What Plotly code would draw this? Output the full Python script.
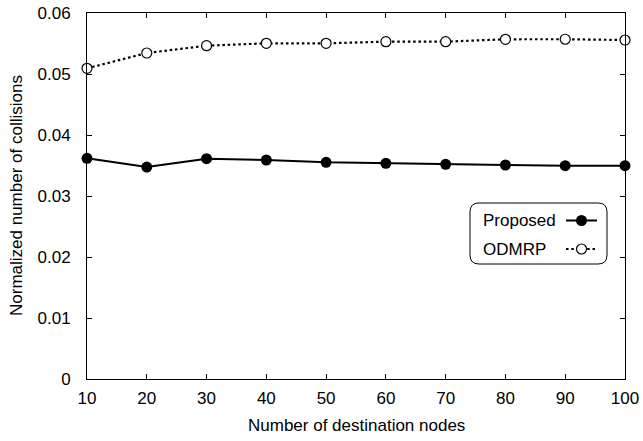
import plotly.graph_objects as go

nodes = [10, 20, 30, 40, 50, 60, 70, 80, 90, 100]
proposed = [0.03617, 0.03475, 0.03612, 0.0359, 0.03552, 0.03535, 0.03519, 0.03508, 0.03497, 0.03497]
odmrp = [0.05093, 0.05344, 0.05464, 0.05503, 0.05503, 0.0553, 0.0553, 0.05569, 0.0557, 0.05557]
series_names = ["Proposed", "ODMRP"]
x_ticks = [10, 20, 30, 40, 50, 60, 70, 80, 90, 100]
y_ticks = [0, 0.01, 0.02, 0.03, 0.04, 0.05, 0.06]
y_tick_text = ["0", "0.01", "0.02", "0.03", "0.04", "0.05", "0.06"]

W, H = 643, 441
PL, PR, PT, PB = 87, 625, 13, 379  # plot area in the reference, pixels
ml, mt = PL, PT
mr, mb = W - PR, H - PB
XMIN, XMAX, YMIN, YMAX = 10, 100, 0, 0.06
font = "Liberation Sans, Arial, sans-serif"
FS = 17


def px_x(px):
    return XMIN + (px - PL) / (PR - PL) * (XMAX - XMIN)


def px_y(py):
    return YMIN + (PB - py) / (PB - PT) * (YMAX - YMIN)


solid = dict(color="black", width=2)
dotted = dict(color="black", width=2.2, dash="2.5px,2.8px")
filled = dict(symbol="circle", size=11, color="black")
hollow = dict(symbol="circle", size=10, color="white", line=dict(color="black", width=1.2))

fig = go.Figure()

# legend box (rounded)
x0, x1, y0, y1, r = 470, 607, 203, 264, 9
pts = lambda a, b: f"{px_x(a)},{px_y(b)}"
path = (f"M {pts(x0+r, y0)} L {pts(x1-r, y0)} Q {pts(x1, y0)} {pts(x1, y0+r)} L {pts(x1, y1-r)} "
        f"Q {pts(x1, y1)} {pts(x1-r, y1)} L {pts(x0+r, y1)} Q {pts(x0, y1)} {pts(x0, y1-r)} "
        f"L {pts(x0, y0+r)} Q {pts(x0, y0)} {pts(x0+r, y0)} Z")
fig.add_shape(type="path", path=path, xref="x", yref="y",
              line=dict(color="black", width=1), fillcolor="white", layer="below")

fig.add_trace(go.Scatter(x=nodes, y=proposed, mode="lines+markers", name=series_names[0],
                         line=solid, marker=filled, cliponaxis=False, showlegend=False))
fig.add_trace(go.Scatter(x=nodes, y=odmrp, mode="lines+markers", name=series_names[1],
                         line=dotted, marker=hollow, cliponaxis=False, showlegend=False))

# legend samples (text left, sample right, as in the reference)
leg_y = [220.5, 249]
for name, yy, ln, mk in zip(series_names, leg_y, [solid, dotted], [filled, hollow]):
    fig.add_trace(go.Scatter(x=[px_x(566), px_x(597)], y=[px_y(yy)] * 2, mode="lines",
                             line=ln, showlegend=False, hoverinfo="skip", cliponaxis=False))
    fig.add_trace(go.Scatter(x=[px_x(581.5)], y=[px_y(yy)], mode="markers",
                             marker=mk, showlegend=False, hoverinfo="skip", cliponaxis=False))
    fig.add_annotation(x=px_x(481), y=px_y(yy), xref="x", yref="y", text=name, showarrow=False,
                       xanchor="left", yanchor="middle", font=dict(family=font, size=FS, color="black"))

# axis titles
fig.add_annotation(x=0.5, y=0, xref="paper", yref="paper", yshift=-(425 - PB), text="Number of destination nodes",
                   showarrow=False, xanchor="center", yanchor="middle", font=dict(family=font, size=FS, color="black"))
fig.add_annotation(x=0, y=0.5, xref="paper", yref="paper", xshift=-(PL - 16), text="Normalized number of collisions",
                   textangle=-90, showarrow=False, xanchor="center", yanchor="middle",
                   font=dict(family=font, size=FS, color="black"))

axis_common = dict(showgrid=False, zeroline=False, showline=True, linecolor="black", linewidth=1,
                   mirror="allticks", ticks="inside", ticklen=5, tickcolor="black", automargin=False,
                   ticklabeloverflow="allow",
                   tickfont=dict(family=font, size=FS, color="black"))

fig.update_layout(
    width=W, height=H, margin=dict(l=ml, r=mr, t=mt, b=mb),
    paper_bgcolor="white", plot_bgcolor="white",
    xaxis=dict(range=[XMIN, XMAX], tickvals=x_ticks, ticklabelstandoff=4, **axis_common),
    yaxis=dict(range=[YMIN, YMAX], tickvals=y_ticks, ticktext=y_tick_text, ticklabelstandoff=12, **axis_common),
    showlegend=False,
)

fig.write_html("out.html", config={"displayModeBar": False},
               post_script="document.body.style.margin='0';document.body.style.overflow='hidden';")
